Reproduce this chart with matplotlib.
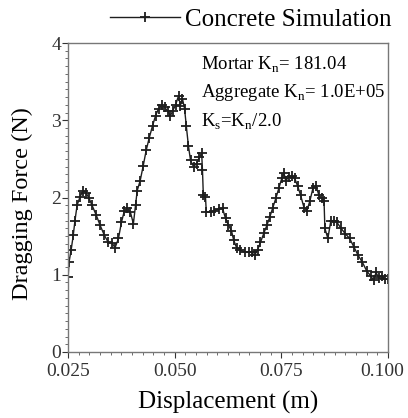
import matplotlib
matplotlib.use("Agg")
import matplotlib.pyplot as plt
from matplotlib.ticker import MultipleLocator
from matplotlib.transforms import ScaledTranslation

plt.rcParams['font.family'] = 'Liberation Serif'
plt.rcParams['mathtext.fontset'] = 'custom'
plt.rcParams['mathtext.rm'] = 'Liberation Serif'

# displacement (m) and dragging force (N)
disp = [0.0250, 0.0252, 0.0257, 0.0262, 0.0266, 0.0271, 0.0278, 0.0285, 0.0292, 0.0299,
        0.0306, 0.0316, 0.0325, 0.0335, 0.0344, 0.0353, 0.0360, 0.0368, 0.0375, 0.0382,
        0.0389, 0.0396, 0.0403, 0.0408, 0.0412, 0.0419, 0.0426, 0.0433, 0.0440, 0.0448,
        0.0455, 0.0462, 0.0469, 0.0476, 0.0483, 0.0490, 0.0495, 0.0502, 0.0509, 0.0513,
        0.0518, 0.0523, 0.0527, 0.0532, 0.0537, 0.0544, 0.0551, 0.0558, 0.0563, 0.0565,
        0.0567, 0.0572, 0.0574, 0.0584, 0.0593, 0.0603, 0.0612, 0.0619, 0.0626, 0.0633,
        0.0638, 0.0645, 0.0654, 0.0664, 0.0673, 0.0680, 0.0687, 0.0694, 0.0701, 0.0709,
        0.0716, 0.0723, 0.0730, 0.0737, 0.0744, 0.0751, 0.0756, 0.0760, 0.0767, 0.0774,
        0.0781, 0.0788, 0.0795, 0.0803, 0.0810, 0.0817, 0.0824, 0.0831, 0.0838, 0.0845,
        0.0850, 0.0852, 0.0859, 0.0866, 0.0873, 0.0880, 0.0890, 0.0900, 0.0910, 0.0920,
        0.0930, 0.0940, 0.0950, 0.0960, 0.0966, 0.0972, 0.0978, 0.0985, 0.0993, 0.1000]
force = [0.97, 1.16, 1.32, 1.51, 1.70, 1.90, 2.01, 2.09, 2.06, 1.99,
         1.90, 1.77, 1.64, 1.51, 1.42, 1.41, 1.35, 1.47, 1.68, 1.83,
         1.86, 1.81, 1.66, 1.90, 2.09, 2.22, 2.41, 2.61, 2.77, 2.93,
         3.06, 3.15, 3.20, 3.17, 3.12, 3.06, 3.12, 3.20, 3.32, 3.19,
         3.28, 3.15, 2.93, 2.67, 2.48, 2.40, 2.44, 2.52, 2.58, 2.35,
         2.03, 2.01, 1.81, 1.81, 1.83, 1.85, 1.86, 1.73, 1.64, 1.57,
         1.45, 1.35, 1.32, 1.29, 1.29, 1.29, 1.25, 1.32, 1.42, 1.54,
         1.64, 1.75, 1.87, 1.99, 2.12, 2.25, 2.32, 2.22, 2.26, 2.28,
         2.25, 2.15, 2.03, 1.87, 1.83, 1.96, 2.12, 2.15, 2.03, 1.99,
         1.96, 1.60, 1.47, 1.70, 1.70, 1.68, 1.60, 1.53, 1.47, 1.36,
         1.25, 1.16, 1.05, 0.98, 0.93, 1.03, 0.96, 0.99, 0.95, 0.94]
xticks = [0.025, 0.050, 0.075, 0.100]
xtick_labels = ['0.025', '0.050', '0.075', '0.100']

fig = plt.figure(figsize=(4.08, 4.18), dpi=100)
ax = fig.add_axes([0.167, 0.158, 0.784, 0.739])

ax.plot(disp, force, color='#1e1e1e', lw=1.0, marker='+', ms=7.5, mew=1.3,
        label='Concrete Simulation')

ax.set_xlim(0.025, 0.100)
ax.set_ylim(0, 4)
ax.set_xticks(xticks)
ax.set_xticklabels(xtick_labels)
ax.set_yticks([0, 1, 2, 3, 4])
ax.xaxis.set_minor_locator(MultipleLocator(0.0025))
ax.yaxis.set_minor_locator(MultipleLocator(0.1))
ax.tick_params(which='major', length=4, width=0.8, labelsize=14, colors='#333333')
ax.tick_params(axis='x', which='major', pad=4)
ax.tick_params(axis='y', which='major', pad=1)
ax.tick_params(which='minor', length=2, width=0.6, colors='#555555')
for s in ax.spines.values():
    s.set_color('#777777')
    s.set_linewidth(1.0)

# nudge last x label so it stays inside the picture
last = ax.get_xticklabels()[-1]
last.set_transform(last.get_transform() + ScaledTranslation(-4 / 72, 0, fig.dpi_scale_trans))

ax.set_xlabel('Displacement (m)', fontsize=18, labelpad=8)
ax.set_ylabel('Dragging Force (N)', fontsize=17.5)
ax.yaxis.set_label_coords(-0.11, 0.48)

ax.text(0.415, 0.915, r'Mortar K$_\mathregular{n}$= 181.04', transform=ax.transAxes, fontsize=13.5)
ax.text(0.415, 0.825, r'Aggregate K$_\mathregular{n}$= 1.0E+05', transform=ax.transAxes, fontsize=13.5)
ax.text(0.415, 0.73, r'K$_\mathregular{s}$=K$_\mathregular{n}$/2.0', transform=ax.transAxes, fontsize=13.5)

ax.legend(loc='lower right', bbox_to_anchor=(1.05, 1.0), frameon=False, fontsize=18,
          handlelength=2.8, handletextpad=0.2, borderaxespad=0.1)

fig.savefig('out.png', dpi=100)
